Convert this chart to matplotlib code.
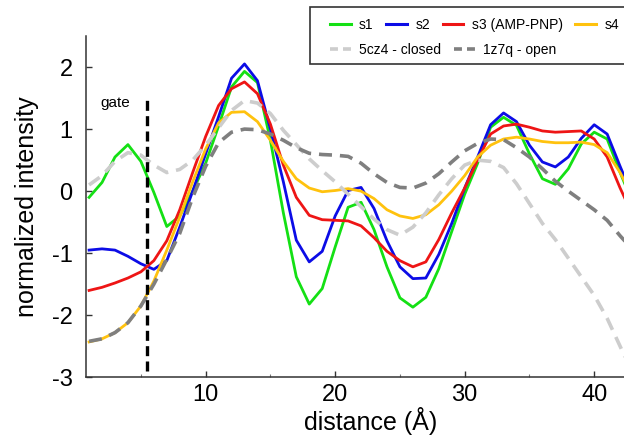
import matplotlib.pyplot as plt
from matplotlib.lines import Line2D
from matplotlib.patches import Rectangle

plt.rcParams['font.family'] = ['Liberation Sans', 'DejaVu Sans']

# distance in Angstrom, one point per 1 A
distance = list(range(1, 44))

s1 = [-0.10, 0.14, 0.55, 0.75, 0.48, -0.02, -0.57, -0.40, 0.00, 0.45,
      1.05, 1.68, 1.93, 1.75, 0.82, -0.35, -1.38, -1.82, -1.57, -0.90,
      -0.26, -0.18, -0.62, -1.22, -1.72, -1.87, -1.71, -1.25, -0.65, -0.05,
      0.45, 1.03, 1.19, 1.06, 0.60, 0.20, 0.11, 0.36, 0.76, 0.95,
      0.84, 0.30, -0.20]
s2 = [-0.95, -0.93, -0.95, -1.05, -1.17, -1.26, -1.12, -0.58, 0.00, 0.60,
      1.20, 1.82, 2.05, 1.78, 1.00, 0.15, -0.79, -1.14, -0.97, -0.40,
      0.01, 0.06, -0.28, -0.80, -1.22, -1.41, -1.40, -1.02, -0.52, 0.05,
      0.55, 1.07, 1.26, 1.12, 0.74, 0.47, 0.39, 0.55, 0.85, 1.07,
      0.92, 0.40, -0.10]
s3 = [-1.60, -1.55, -1.48, -1.40, -1.30, -1.12, -0.80, -0.30, 0.30, 0.88,
      1.38, 1.65, 1.76, 1.57, 1.08, 0.42, -0.10, -0.39, -0.46, -0.47,
      -0.48, -0.56, -0.75, -0.97, -1.12, -1.22, -1.14, -0.78, -0.35, 0.05,
      0.50, 0.92, 1.05, 1.08, 1.03, 0.97, 0.95, 0.96, 0.97, 0.84,
      0.55, 0.05, -0.40]
s4 = [-2.43, -2.38, -2.28, -2.12, -1.85, -1.45, -0.95, -0.42, 0.15, 0.68,
      1.10, 1.27, 1.28, 1.12, 0.82, 0.48, 0.20, 0.05, -0.01, 0.01,
      0.04, 0.00, -0.12, -0.30, -0.40, -0.44, -0.38, -0.22, 0.00, 0.25,
      0.55, 0.74, 0.84, 0.87, 0.84, 0.80, 0.78, 0.78, 0.79, 0.75,
      0.62, 0.30, -0.10]
closed_5cz4 = [0.10, 0.25, 0.48, 0.62, 0.58, 0.42, 0.30, 0.35, 0.50, 0.74,
               1.02, 1.30, 1.46, 1.42, 1.25, 0.98, 0.75, 0.52, 0.33, 0.15,
               -0.05, -0.25, -0.45, -0.62, -0.71, -0.58, -0.35, -0.06, 0.20, 0.42,
               0.50, 0.48, 0.38, 0.12, -0.20, -0.52, -0.78, -1.08, -1.38, -1.68,
               -2.05, -2.50, -2.95]
open_1z7q = [-2.42, -2.38, -2.28, -2.12, -1.85, -1.50, -1.10, -0.68, -0.10, 0.40,
             0.78, 0.95, 1.00, 0.99, 0.92, 0.82, 0.70, 0.61, 0.59, 0.58,
             0.56, 0.45, 0.28, 0.14, 0.06, 0.05, 0.13, 0.28, 0.47, 0.65,
             0.77, 0.84, 0.83, 0.70, 0.55, 0.36, 0.16, 0.00, -0.15, -0.30,
             -0.47, -0.72, -0.95]

gate_x = 5.45

fig = plt.figure(figsize=(6.24, 4.37), dpi=100)
ax = fig.add_axes([0.1386, 0.1366, 0.8614, 0.781])

green = '#14e014'
blue = '#0c0ce6'
red = '#ee1515'
yellow = '#ffc20e'
light = '#cdcdcd'
dark = '#7f7f7f'

ax.plot(distance, s1, color=green, lw=2.0)
ax.plot(distance, s2, color=blue, lw=2.0)
ax.plot(distance, s3, color=red, lw=2.0)
ax.plot(distance, s4, color=yellow, lw=2.0)
ax.plot(distance, closed_5cz4, color=light, lw=2.6, dashes=(3.6, 2.2))
ax.plot(distance, open_1z7q, color=dark, lw=2.6, dashes=(3.6, 2.2))

# gate marker
ax.plot([gate_x, gate_x], [-2.9, 1.55], color='black', lw=2.4, dashes=(3.0, 1.6))
ax.text(3.05, 1.42, 'gate', fontsize=11, ha='center', va='center')

ax.set_xlim(0.8, 42.3)
ax.set_ylim(-3, 2.5)
ax.set_xticks([10, 20, 30, 40])
ax.set_xticks([5, 15, 25, 35], minor=True)
ax.set_yticks([-3, -2, -1, 0, 1, 2])
ax.set_yticklabels(['-3', '-2', '-1', '0', '1', '2'])
ax.tick_params(axis='both', which='major', direction='in', length=4, width=1,
               labelsize=17, color='#333333')
ax.tick_params(axis='x', which='major', pad=5)
ax.tick_params(axis='y', which='major', pad=10)
ax.tick_params(axis='x', which='minor', direction='in', length=2, width=0.8, color='#777777')

for side in ['top', 'right']:
    ax.spines[side].set_visible(False)
for side in ['left', 'bottom']:
    ax.spines[side].set_color('#333333')
    ax.spines[side].set_linewidth(1.1)

ax.set_xlabel('distance (Å)', fontsize=18, labelpad=0)
ax.xaxis.set_label_coords(0.529, -0.086)
ax.set_ylabel('normalized intensity', fontsize=18)
ax.yaxis.set_label_coords(-0.088, 0.5)

# legend frame, runs off the right edge like the reference
fig.patches.append(Rectangle((310 / 624, 1 - 63.5 / 437), 0.6, 56 / 437,
                             transform=fig.transFigure, facecolor='white',
                             edgecolor='#333333', lw=1.2, zorder=2))

row1 = [Line2D([], [], color=c, lw=2.2) for c in [green, blue, red, yellow]]
row2 = [Line2D([], [], color=c, lw=2.6, dashes=(2.2, 1.4)) for c in [light, dark]]

leg1 = fig.legend(row1, ['s1', 's2', 's3 (AMP-PNP)', 's4'], ncol=4,
                  loc='center left', bbox_to_anchor=(330 / 624, 1 - 25 / 437),
                  frameon=False, fontsize=10, handlelength=1.5,
                  handletextpad=0.6, columnspacing=0.9, borderpad=0,
                  borderaxespad=0)
leg1.set_zorder(5)
leg2 = fig.legend(row2, ['5cz4 - closed', '1z7q - open'], ncol=2,
                  loc='center left', bbox_to_anchor=(330 / 624, 1 - 50 / 437),
                  frameon=False, fontsize=10, handlelength=1.5,
                  handletextpad=0.6, columnspacing=0.9, borderpad=0,
                  borderaxespad=0)
leg2.set_zorder(5)

plt.savefig('out.png', dpi=100)
plt.close()
